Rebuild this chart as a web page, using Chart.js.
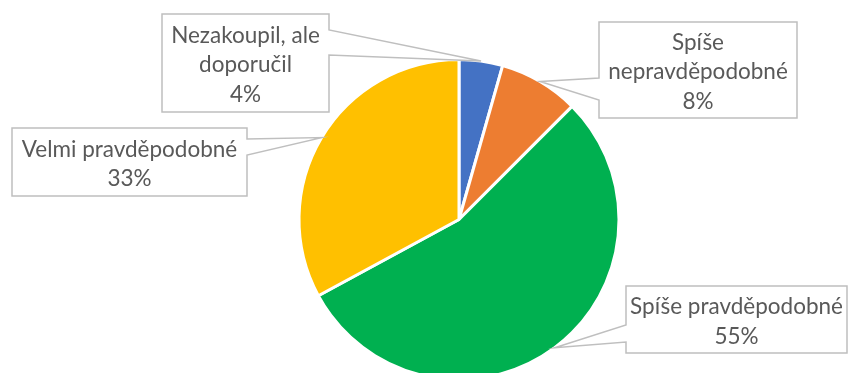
<!DOCTYPE html>
<html>
<head>
<meta charset="utf-8">
<script src="https://cdn.jsdelivr.net/npm/chart.js@4"></script>
<style>
  html, body { margin: 0; padding: 0; background: #fff; overflow: hidden; }
  #wrap { width: 848px; height: 373px; overflow: hidden; }
</style>
</head>
<body>
<div id="wrap"><canvas id="myChart" width="848" height="440"></canvas></div>
<script>
// data
const labels = [['Nezakoupil, ale', 'doporučil'], ['Spíše', 'nepravděpodobné'], ['Spíše pravděpodobné'], ['Velmi pravděpodobné']];
const values = [4.4, 8.1, 54.6, 32.9];
const colors = ['#4472C4', '#ED7D31', '#00B050', '#FFC000'];

// callout boxes (x, y, w, h, side with the pointer, notch from/to)
const boxes = [
  { x: 162, y: 14, w: 167, h: 98, side: 'right', n1: 30, n2: 55 },
  { x: 599, y: 22, w: 198, h: 96, side: 'left', n1: 78, n2: 100 },
  { x: 626, y: 286, w: 221, h: 67, side: 'left', n1: 325, n2: 342 },
  { x: 12, y: 128, w: 235, h: 68, side: 'right', n1: 139, n2: 155 }
];

const calloutPlugin = {
  id: 'callouts',
  afterDraw(chart) {
    const ctx = chart.ctx;
    const arcs = chart.getDatasetMeta(0).data;
    const total = values.reduce((a, b) => a + b, 0);
    ctx.save();
    arcs.forEach((arc, i) => {
      const p = arc.getProps(['x', 'y', 'startAngle', 'endAngle', 'outerRadius'], true);
      const mid = (p.startAngle + p.endAngle) / 2;
      const tx = p.x + Math.cos(mid) * p.outerRadius;
      const ty = p.y + Math.sin(mid) * p.outerRadius;
      const b = boxes[i];
      ctx.beginPath();
      ctx.moveTo(b.x, b.y);
      ctx.lineTo(b.x + b.w, b.y);
      if (b.side == 'right') {
        ctx.lineTo(b.x + b.w, b.n1);
        ctx.lineTo(tx, ty);
        ctx.lineTo(b.x + b.w, b.n2);
      }
      ctx.lineTo(b.x + b.w, b.y + b.h);
      ctx.lineTo(b.x, b.y + b.h);
      if (b.side == 'left') {
        ctx.lineTo(b.x, b.n2);
        ctx.lineTo(tx, ty);
        ctx.lineTo(b.x, b.n1);
      }
      ctx.closePath();
      ctx.fillStyle = '#ffffff';
      ctx.fill();
      ctx.strokeStyle = '#BFBFBF';
      ctx.lineWidth = 1.5;
      ctx.stroke();

      const lines = labels[i].concat([Math.round(values[i] / total * 100) + '%']);
      ctx.fillStyle = '#595959';
      ctx.font = '22.5px Lato';
      ctx.textAlign = 'center';
      ctx.textBaseline = 'middle';
      const cx = b.x + b.w / 2;
      const cy = b.y + b.h / 2 + 2;
      const lh = 29.5;
      lines.forEach((t, k) => {
        ctx.fillText(t, cx, cy + (k - (lines.length - 1) / 2) * lh);
      });
    });
    ctx.restore();
  }
};

new Chart(document.getElementById('myChart'), {
  type: 'pie',
  data: {
    labels: labels,
    datasets: [{
      data: values,
      backgroundColor: colors,
      borderColor: '#ffffff',
      borderWidth: 3
    }]
  },
  options: {
    responsive: false,
    animation: false,
    layout: { padding: { top: 58, bottom: 59, left: 70, right: 0 } },
    plugins: {
      legend: { display: false },
      tooltip: { enabled: false }
    }
  },
  plugins: [calloutPlugin]
});
</script>
</body>
</html>
